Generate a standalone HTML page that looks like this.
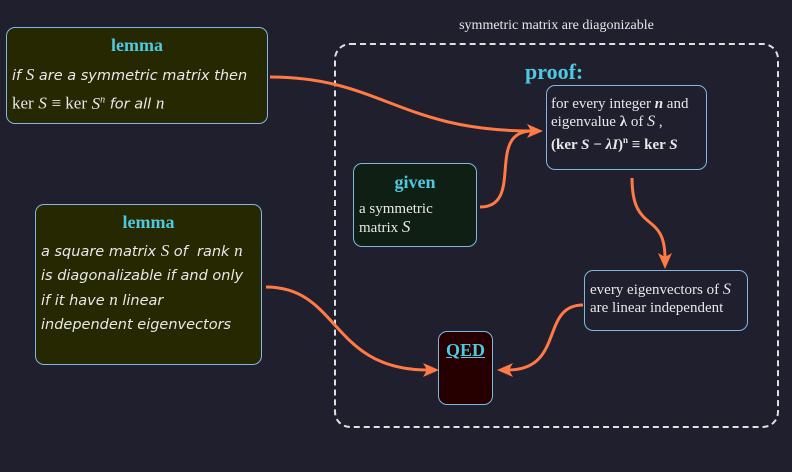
<!DOCTYPE html>
<html><head><style>
body{margin:0;width:792px;height:472px;background:#1f1f2e;overflow:hidden;position:relative;font-family:"Liberation Serif",serif;}
.b{position:absolute;box-sizing:border-box;border:1px solid #7fb8e0;border-radius:9px;color:#e8e8e8;}
.h{color:#4fc8e0;font-weight:bold;text-align:center;font-size:18px;}
.hand{font-family:"Comic Sans MS","DejaVu Sans",sans-serif;font-style:italic;font-size:14.5px;line-height:24px;}
.m{font-family:"Liberation Serif",serif;font-style:italic;font-size:17px;}
.r{font-family:"Liberation Serif",serif;font-style:normal;font-size:17px;}
</style></head><body>
<div style="position:absolute;left:334px;top:43px;width:445px;height:385px;box-sizing:border-box;border:2px dashed #e0e0e0;border-radius:16px"></div>
<div style="position:absolute;left:334px;width:445px;top:18px;text-align:center;color:#e8e8e8;font-size:14px">symmetric matrix are diagonizable</div>
<div style="position:absolute;left:525px;top:59px;color:#4fc8e0;font-weight:bold;font-size:22px">proof:</div>

<div class="b" style="left:6px;top:27px;width:262px;height:97px;background:#252800">
<div class="h" style="margin-top:7px">lemma</div>
<div class="hand" style="padding:7px 0 0 5px">if <span class="m">S</span> are a symmetric matrix then<br><span class="r">ker</span> <span class="m">S</span> <span class="r">≡ ker</span> <span class="m">S<sup style="font-size:10px">n</sup></span> for all <span class="m">n</span></div>
</div>

<div class="b" style="left:35px;top:204px;width:227px;height:161px;background:#252800">
<div class="h" style="margin-top:7px">lemma</div>
<div class="hand" style="padding:6px 0 0 5px">a square matrix <span class="m">S</span> of &nbsp;rank <span class="m">n</span><br>is diagonalizable if and only<br>if it have <span class="m">n</span> linear<br>independent eigenvectors</div>
</div>

<div class="b" style="left:546px;top:85px;width:161px;height:85px;background:#1f1f2e;font-size:15px;line-height:18px;padding:9px 0 0 4px">
for every integer <i><b>n</b></i> and<br>eigenvalue <b>λ</b> of <i style="font-size:16px">S</i> ,<br><b>(ker <i>S</i> − <i>λI</i>)<sup style="font-size:9px">n</sup> ≡ ker <i>S</i></b></div>

<div class="b" style="left:353px;top:163px;width:124px;height:84px;background:#0f1f14">
<div class="h" style="margin-top:8px">given</div>
<div style="font-size:15px;line-height:18px;padding:7px 0 0 5px">a symmetric<br>matrix <i style="font-size:17px">S</i></div>
</div>

<div class="b" style="left:584px;top:270px;width:164px;height:61px;background:#1f1f2e;font-size:15px;line-height:18px;padding:10px 0 0 5px">every eigenvectors of <i style="font-size:16px">S</i><br>are linear independent</div>

<div class="b" style="left:438px;top:331px;width:55px;height:74px;background:#260000">
<div class="h" style="margin-top:8px;text-decoration:underline">QED</div>
</div>

<svg width="792" height="472" style="position:absolute;left:0;top:0">
<g fill="none" stroke="#ff7a45" stroke-width="3">
<path d="M270,77 C380,77 400,131 532,131"/>
<path d="M480,207 C525,207 485,131 532,131"/>
<path d="M632,178 C632,235 665,210 665,258"/>
<path d="M583,305 C540,305 565,370 508,370"/>
<path d="M266,287 C340,287 330,370 428,370"/>
</g>
<g fill="#ff7a45">
<path d="M543,131 L527,124 L531,131 L527,138 z"/>
<path d="M665,269 L658,253 L665,257 L672,253 z"/>
<path d="M497,370 L513,363 L509,370 L513,377 z"/>
<path d="M439,370 L423,363 L427,370 L423,377 z"/>
</g></svg>
</body></html>
